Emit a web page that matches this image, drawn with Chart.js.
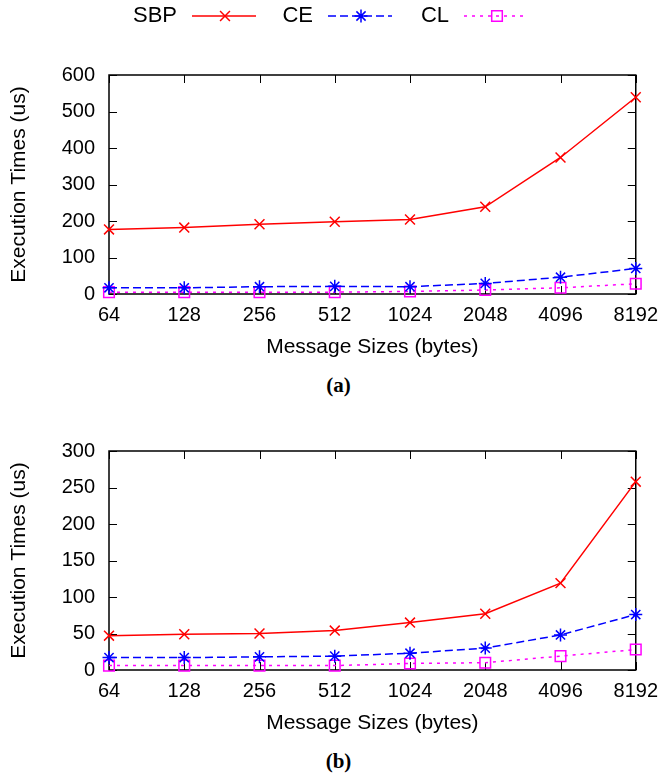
<!DOCTYPE html>
<html>
<head>
<meta charset="utf-8">
<script src="https://cdn.jsdelivr.net/npm/chart.js@4.4.1/dist/chart.umd.min.js"></script>
<style>
  body { margin: 0; background: #fff; }
  .panel { position: absolute; left: 0; width: 667px; height: 364px; }
  .caption { position: absolute; left: 0; width: 677px; text-align: center; line-height: 20px;
             font: bold 21px "Liberation Serif", "Times New Roman", serif; }
</style>
</head>
<body>
<div class="panel" style="top:0"><canvas id="graficaA"></canvas></div>
<div class="caption" style="top:373px">(a)</div>
<div class="panel" style="top:376px"><canvas id="graficaB"></canvas></div>
<div class="caption" style="top:749px">(b)</div>

<script>
// Tamaños de mensaje (eje X)
const tamanos = ['64', '128', '256', '512', '1024', '2048', '4096', '8192'];

// Panel (a): tiempos en us
const sbpA = [177, 182, 191, 198, 204, 239, 374, 539];
const ceA = [17, 17, 20, 21, 20, 29, 46, 70];
const clA = [5, 5, 5, 5, 7, 11, 17, 28];

// Panel (b): tiempos en us
const sbpB = [47, 49, 50, 54, 65, 77, 119, 258];
const ceB = [17, 17, 18, 19, 23, 30, 48, 76];
const clB = [6, 6, 6, 6, 9, 10, 19, 28];

// Rango del eje Y de cada panel
const ejeYA = [0, 600, 100]; // min, max, paso
const ejeYB = [0, 300, 50];

Chart.defaults.font.family = '"Liberation Sans", Arial, sans-serif';
Chart.defaults.color = '#000';

// Marco negro con marcas hacia dentro en los cuatro lados (estilo gnuplot)
const marco = {
    id: 'marco',
    beforeDatasetsDraw(chart) {
        const { ctx, chartArea: a, scales: { x, y } } = chart;
        const largo = 8;
        ctx.save();
        ctx.strokeStyle = '#000';
        ctx.lineWidth = 1;
        ctx.beginPath();
        x.ticks.forEach((t, i) => {
            const px = Math.round(x.getPixelForTick(i)) + 0.5;
            ctx.moveTo(px, a.bottom); ctx.lineTo(px, a.bottom - largo);
            ctx.moveTo(px, a.top); ctx.lineTo(px, a.top + largo);
        });
        y.ticks.forEach((t, i) => {
            const py = Math.round(y.getPixelForTick(i)) + 0.5;
            ctx.moveTo(a.left, py); ctx.lineTo(a.left + largo, py);
            ctx.moveTo(a.right, py); ctx.lineTo(a.right - largo, py);
        });
        ctx.stroke();
        ctx.lineWidth = 1.5;
        ctx.strokeRect(a.left, a.top, a.right - a.left, a.bottom - a.top);
        ctx.restore();
    }
};

// Leyenda arriba: texto, luego la muestra de linea con su marcador
const leyenda = {
    id: 'leyenda',
    afterDraw(chart) {
        const ctx = chart.ctx;
        const y = 16;
        ctx.save();
        ctx.font = '22px "Liberation Sans", Arial, sans-serif';
        ctx.textAlign = 'right';
        ctx.textBaseline = 'middle';
        chart.data.datasets.forEach((ds, i) => {
            const x0 = 192 + i * 136;
            ctx.fillStyle = '#000';
            ctx.fillText(ds.label, x0 - 15, y);
            ctx.strokeStyle = ds.borderColor;
            ctx.lineWidth = ds.borderWidth;
            ctx.setLineDash(ds.borderDash || []);
            ctx.beginPath();
            ctx.moveTo(x0, y);
            ctx.lineTo(x0 + 64, y);
            ctx.stroke();
            ctx.setLineDash([]);
            ctx.fillStyle = 'rgba(0,0,0,0)';
            ctx.lineWidth = ds.pointBorderWidth;
            Chart.helpers.drawPoint(ctx, {
                pointStyle: ds.pointStyle, radius: ds.pointRadius,
                borderWidth: ds.pointBorderWidth, rotation: 0
            }, x0 + 33, y);
        });
        ctx.restore();
    }
};

function series(sbp, ce, cl) {
    const comun = { borderWidth: 1.5, pointBorderWidth: 1.5, backgroundColor: 'rgba(0,0,0,0)',
                    pointBackgroundColor: 'rgba(0,0,0,0)', tension: 0, clip: false };
    return [
        { ...comun, label: 'SBP', data: sbp, borderColor: '#ff0000', pointBorderColor: '#ff0000',
          pointStyle: 'crossRot', pointRadius: 7 },
        { ...comun, label: 'CE', data: ce, borderColor: '#0000ff', pointBorderColor: '#0000ff',
          borderDash: [8, 4], pointStyle: 'star', pointRadius: 6.5 },
        { ...comun, label: 'CL', data: cl, borderColor: '#ff00ff', pointBorderColor: '#ff00ff',
          borderDash: [3, 5], pointStyle: 'rect', pointRadius: 7.5 }
    ];
}

function opciones(eje) {
    return {
        responsive: true,
        maintainAspectRatio: false,
        animation: false,
        layout: { padding: { top: 75, right: 30, left: 0, bottom: 0 } },
        plugins: { legend: { display: false }, tooltip: { enabled: false } },
        scales: {
            x: {
                type: 'category',
                offset: false,
                grid: { display: false, drawTicks: false },
                border: { display: false },
                ticks: { font: { size: 20 }, padding: 9, maxRotation: 0, autoSkip: false },
                title: { display: true, text: 'Message Sizes (bytes)', font: { size: 21 },
                         padding: { top: 0, bottom: 4 } },
                afterFit: (s) => { s.height = 70; }
            },
            y: {
                min: eje[0],
                max: eje[1],
                grid: { display: false, drawTicks: false },
                border: { display: false },
                ticks: { stepSize: eje[2], font: { size: 20 }, padding: 14 },
                title: { display: true, text: 'Execution Times (us)', font: { size: 21 },
                         padding: { top: 7, bottom: 0 } },
                afterFit: (s) => { s.width = 109; }
            }
        }
    };
}

new Chart(document.getElementById('graficaA'), {
    type: 'line',
    data: { labels: tamanos, datasets: series(sbpA, ceA, clA) },
    options: opciones(ejeYA),
    plugins: [marco, leyenda]
});

new Chart(document.getElementById('graficaB'), {
    type: 'line',
    data: { labels: tamanos, datasets: series(sbpB, ceB, clB) },
    options: opciones(ejeYB),
    plugins: [marco]
});
</script>
</body>
</html>
